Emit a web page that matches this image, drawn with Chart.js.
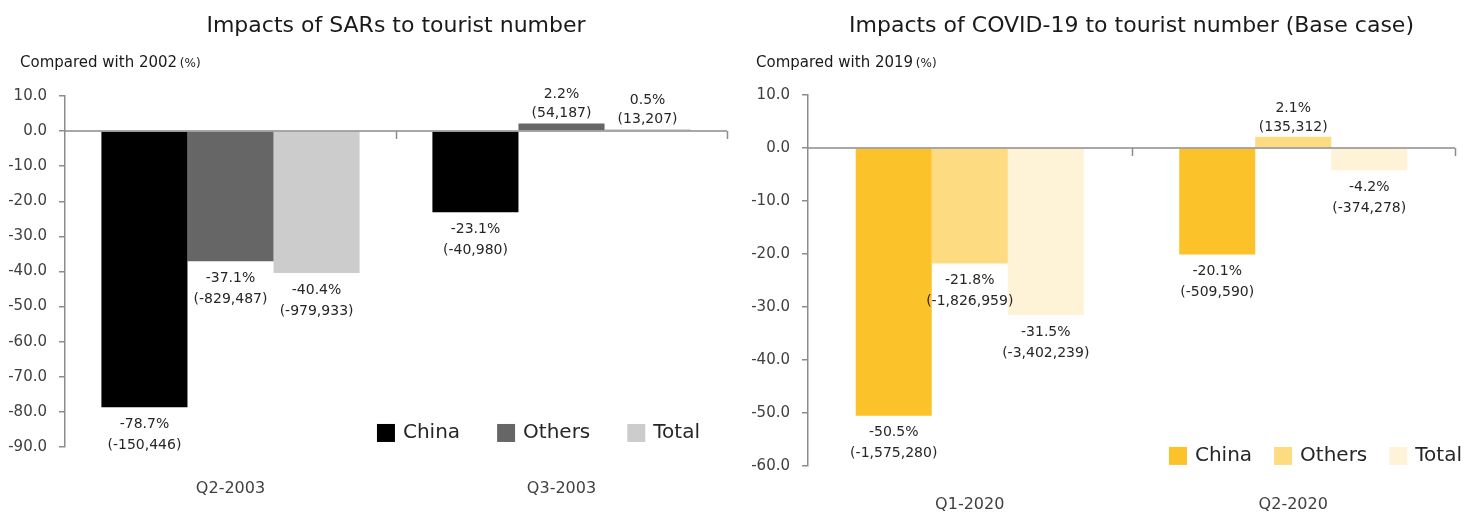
<!DOCTYPE html>
<html>
<head>
<meta charset="utf-8">
<script src="https://cdn.jsdelivr.net/npm/chart.js@4.4.1/dist/chart.umd.min.js"></script>
<style>
  html, body { margin: 0; padding: 0; background: #fff; }
  .wrap { display: flex; width: 1479px; height: 517px; }
  .box { position: relative; height: 517px; }
</style>
</head>
<body>
<div class="wrap">
  <div class="box" style="width:740px"><canvas id="sarsChart"></canvas></div>
  <div class="box" style="width:739px"><canvas id="covidChart"></canvas></div>
</div>
<script>
/* ---- data ---- */
const SERIES = ['China', 'Others', 'Total'];

const SARS_QUARTERS = ['Q2-2003', 'Q3-2003'];
const SARS_CHINA  = [-78.7, -23.1];
const SARS_OTHERS = [-37.1, 2.2];
const SARS_TOTAL  = [-40.4, 0.5];
const SARS_CHINA_N  = [-150446, -40980];
const SARS_OTHERS_N = [-829487, 54187];
const SARS_TOTAL_N  = [-979933, 13207];
const SARS_COLORS = ['#000000', '#666666', '#cccccc'];

const COVID_QUARTERS = ['Q1-2020', 'Q2-2020'];
const COVID_CHINA  = [-50.5, -20.1];
const COVID_OTHERS = [-21.8, 2.1];
const COVID_TOTAL  = [-31.5, -4.2];
const COVID_CHINA_N  = [-1575280, -509590];
const COVID_OTHERS_N = [-1826959, 135312];
const COVID_TOTAL_N  = [-3402239, -374278];
const COVID_COLORS = ['#fbc22a', '#fddb80', '#fef3d6'];

const FONT = "'DejaVu Sans', 'Noto Sans', sans-serif";
const AXIS_GRAY = '#8c8c8c';
const TEXT = '#262626';

const fmtN = n => '(' + n.toLocaleString('en-US') + ')';

/* ---- plugin: zero line, bar labels, title, legend ---- */
const decorPlugin = {
  id: 'decor',
  afterDatasetsDraw(chart, args, opts) {
    const { ctx, chartArea: ca, scales: { x, y } } = chart;
    const y0 = y.getPixelForValue(0);
    ctx.save();
    // zero axis with category boundary ticks
    ctx.strokeStyle = AXIS_GRAY;
    ctx.lineWidth = 1.5;
    ctx.beginPath();
    ctx.moveTo(ca.left, y0); ctx.lineTo(ca.right, y0);
    const n = chart.data.labels.length;
    const half = (x.getPixelForValue(1) - x.getPixelForValue(0)) / 2;
    for (let i = 1; i <= n; i++) {
      const px = Math.round(x.getPixelForValue(i - 1) + half) + 0.5;
      ctx.moveTo(px, y0); ctx.lineTo(px, y0 + 8);
    }
    ctx.stroke();

    // bar labels
    ctx.fillStyle = TEXT;
    ctx.textAlign = 'center';
    ctx.textBaseline = 'middle';
    ctx.font = '14px ' + FONT;
    chart.data.datasets.forEach((ds, di) => {
      chart.getDatasetMeta(di).data.forEach((bar, i) => {
        const v = ds.data[i];
        const l1 = v.toFixed(1) + '%', l2 = fmtN(ds.counts[i]);
        if (v < 0) {
          ctx.fillText(l1, bar.x, bar.y + 17);
          ctx.fillText(l2, bar.x, bar.y + 38);
        } else {
          ctx.fillText(l1, bar.x, bar.y - 29);
          ctx.fillText(l2, bar.x, bar.y - 10);
        }
      });
    });

    // title and axis caption
    ctx.font = '22px ' + FONT;
    ctx.fillStyle = '#1a1a1a';
    ctx.fillText(opts.title, (ca.left + ca.right) / 2, 26);
    ctx.textAlign = 'left';
    ctx.font = '15px ' + FONT;
    ctx.fillText(opts.caption, opts.captionX, 63);
    const w = ctx.measureText(opts.caption + ' ').width;
    ctx.font = '12px ' + FONT;
    ctx.fillText('(%)', opts.captionX + w - 2, 64);

    // legend in lower right corner
    ctx.font = '20px ' + FONT;
    const ly = y.getPixelForValue(opts.legendAt);
    let lx = ca.right + opts.legendShift;
    const items = chart.data.datasets.map(d => d).reverse();
    items.forEach(d => {
      const tw = ctx.measureText(d.label).width;
      lx -= tw;
      ctx.fillStyle = TEXT;
      ctx.fillText(d.label, lx, ly);
      lx -= 26;
      ctx.fillStyle = d.backgroundColor;
      ctx.fillRect(lx, ly - 9, 18, 18);
      lx -= opts.legendGap;
    });
    ctx.restore();
  }
};

function barChart(el, labels, series, counts, colors, yMin, yMax, pad, decor) {
  return new Chart(document.getElementById(el), {
    type: 'bar',
    data: {
      labels,
      datasets: SERIES.map((s, i) => ({
        label: s, data: series[i], counts: counts[i],
        backgroundColor: colors[i], borderWidth: 0,
        barPercentage: 1.0, categoryPercentage: decor.catPct
      }))
    },
    options: {
      responsive: true, maintainAspectRatio: false, animation: false,
      layout: { padding: pad },
      plugins: { legend: { display: false }, tooltip: { enabled: false }, decor },
      scales: {
        x: {
          grid: { display: false }, border: { display: false },
          ticks: { color: '#404040', font: { family: FONT, size: 16 }, padding: decor.xPad },
          afterFit: s => { s.height = decor.xHeight; }
        },
        y: {
          min: yMin, max: yMax,
          grid: { drawOnChartArea: false, color: AXIS_GRAY, tickLength: 6, lineWidth: 1.5 },
          border: { color: AXIS_GRAY, width: 1.5 },
          ticks: { stepSize: 10, color: '#404040', padding: 12,
            font: { family: FONT, size: 15 }, callback: v => v.toFixed(1) },
          afterFit: s => { s.width = decor.yWidth; }
        }
      }
    },
    plugins: [decorPlugin]
  });
}

barChart('sarsChart', SARS_QUARTERS,
  [SARS_CHINA, SARS_OTHERS, SARS_TOTAL],
  [SARS_CHINA_N, SARS_OTHERS_N, SARS_TOTAL_N],
  SARS_COLORS, -90, 10,
  { left: 0, top: 96, right: 13, bottom: 0 },
  { title: 'Impacts of SARs to tourist number', caption: 'Compared with 2002', captionX: 20,
    legendAt: -86, legendShift: -27, legendGap: 37,
    catPct: 0.78, xPad: 24, xHeight: 70, yWidth: 65 });

barChart('covidChart', COVID_QUARTERS,
  [COVID_CHINA, COVID_OTHERS, COVID_TOTAL],
  [COVID_CHINA_N, COVID_OTHERS_N, COVID_TOTAL_N],
  COVID_COLORS, -60, 10,
  { left: 0, top: 95, right: 24, bottom: 0 },
  { title: 'Impacts of COVID-19 to tourist number (Base case)', caption: 'Compared with 2019', captionX: 16,
    legendAt: -58.1, legendShift: 7, legendGap: 22,
    catPct: 0.705, xPad: 21, xHeight: 51, yWidth: 68 });
</script>
</body>
</html>
